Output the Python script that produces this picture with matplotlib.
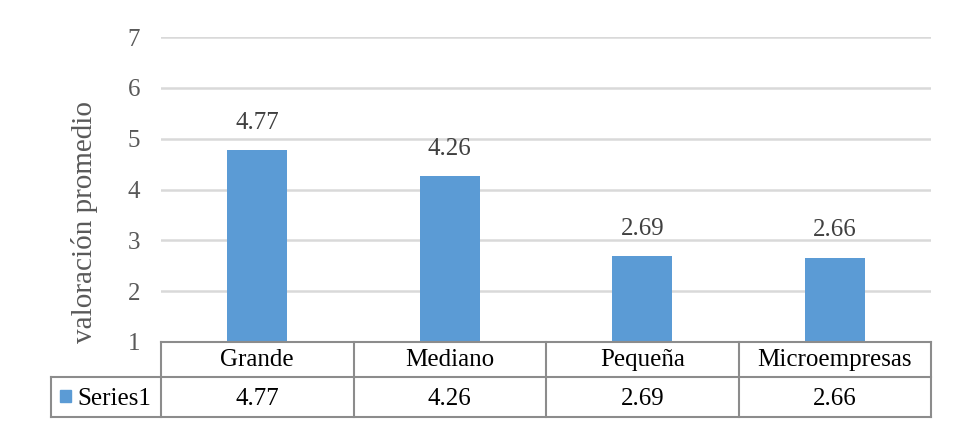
import matplotlib.pyplot as plt
from matplotlib.lines import Line2D
from matplotlib.patches import Rectangle

plt.rcParams['font.family'] = ['Liberation Serif', 'DejaVu Serif']

categories = ['Grande', 'Mediano', 'Pequeña', 'Microempresas']
values = [4.77, 4.26, 2.69, 2.66]
series_name = 'Series1'
yticks = [1, 2, 3, 4, 5, 6, 7]

W, H = 963, 422
bar_color = '#5B9BD5'
grid_color = '#D9D9D9'
table_color = '#8C8C8C'
fs = 18

fig = plt.figure(figsize=(W / 100, H / 100), dpi=100)
ax = fig.add_axes([161 / W, 1 - 342 / H, (931 - 161) / W, (342 - 37) / H])

x = list(range(len(categories)))
ax.bar(x, [v - 1 for v in values], bottom=1, width=0.31, color=bar_color, zorder=3)
for xi, v in zip(x, values):
    ax.annotate(f'{v:.2f}', (xi, v), xytext=(0, 15.5), textcoords='offset points',
                ha='center', va='baseline', fontsize=fs, color='#404040')

ax.set_xlim(-0.5, len(categories) - 0.5)
ax.set_ylim(1, 7)
ax.set_yticks(yticks)
ax.set_yticklabels([str(t) for t in yticks])
ax.yaxis.grid(True, color=grid_color, linewidth=1.8, zorder=0)
ax.tick_params(axis='y', length=0, pad=15, labelsize=fs, labelcolor='#595959')
ax.set_xticks([])
for s in ax.spines.values():
    s.set_visible(False)


def fx(px):
    return px / W


def fy(py):
    return 1 - py / H


fig.text(fx(84), fy(222), 'valoración promedio', rotation=90, ha='center', va='center',
         fontsize=21, color='#595959')

# data table below the plot area
left, right = 161, 931
row0, row1, row2 = 342, 377, 417
leg_left = 51
col_w = (right - left) / len(categories)
lw = 1.5

lines = [
    ((left, right), (row0, row0)),
    ((leg_left, right), (row1, row1)),
    ((leg_left, right), (row2, row2)),
    ((leg_left, leg_left), (row1, row2)),
]
for i in range(len(categories) + 1):
    cx = left + i * col_w
    lines.append(((cx, cx), (row0, row2)))
for (xs, ys) in lines:
    fig.add_artist(Line2D([fx(xs[0]), fx(xs[1])], [fy(ys[0]), fy(ys[1])],
                          color=table_color, linewidth=lw))

for i, (cat, v) in enumerate(zip(categories, values)):
    cx = left + (i + 0.5) * col_w
    fig.text(fx(cx), fy(366), cat, ha='center', va='baseline', fontsize=fs)
    fig.text(fx(cx), fy(405), f'{v:.2f}', ha='center', va='baseline', fontsize=fs)

fig.add_artist(Rectangle((fx(60), fy(402)), 11 / W, 12 / H, color=bar_color,
                         transform=fig.transFigure))
fig.text(fx(77), fy(405), series_name, ha='left', va='baseline', fontsize=fs)

fig.savefig('out.png', dpi=100)
